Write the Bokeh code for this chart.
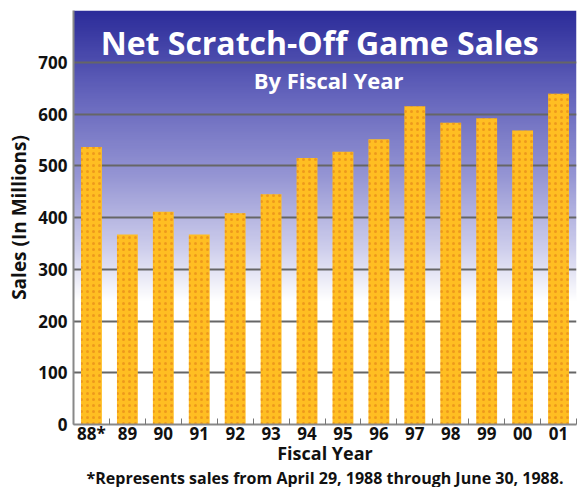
import numpy as np
from bokeh.plotting import figure
from bokeh.models import ColumnDataSource, FixedTicker, Label, Title, Range1d
from bokeh.embed import file_html
from bokeh.resources import INLINE

years = ["88*", "89", "90", "91", "92", "93", "94", "95", "96", "97", "98", "99", "00", "01"]
sales = [536, 367, 411, 367, 408, 445, 515, 527, 551, 615, 583, 592, 568, 639]
y_ticks = [0, 100, 200, 300, 400, 500, 600, 700]
title_text = "Net Scratch-Off Game Sales"
subtitle_text = "By Fiscal Year"
x_label = "Fiscal Year"
y_label = "Sales (In Millions)"
footnote = "*Represents sales from April 29, 1988 through June 30, 1988."

FONT = "Open Sans"
n = len(years)
xpos = [i + 0.5 for i in range(n)]

p = figure(width=582, height=487, output_backend="svg", toolbar_location=None,
           x_range=Range1d(0, n), y_range=Range1d(0, 800),
           min_border_left=73, min_border_right=6, min_border_top=10, min_border_bottom=63)
p.background_fill_color = "white"
p.border_fill_color = "white"
p.outline_line_color = None

# gradient background (dark blue at top fading to white)
H = 200
vals = np.linspace(0, 800, H)
stops_v = [0, 240, 330, 480, 640, 800]
stops_c = np.array([[255, 255, 255], [255, 255, 255], [210, 210, 238], [150, 150, 212],
                    [100, 100, 188], [44, 44, 154]], dtype=float)
img = np.zeros((H, 1), dtype=np.uint32)
view = img.view(dtype=np.uint8).reshape((H, 1, 4))
for k in range(3):
    view[:, 0, k] = np.interp(vals, stops_v, stops_c[:, k]).astype(np.uint8)
view[:, 0, 3] = 255
bg = p.image_rgba(image=[img], x=0, y=0, dw=n, dh=800)
bg.level = "image"

src = ColumnDataSource(dict(x=xpos, top=sales))
p.vbar(x="x", top="top", width=0.58, source=src, fill_color="#FFBE22", line_color=None,
       hatch_pattern=".", hatch_color="#E8901A", hatch_scale=6, hatch_weight=1.5, hatch_alpha=0.8)

# axes
p.xaxis.ticker = FixedTicker(ticks=xpos, minor_ticks=list(range(n + 1)))
p.xaxis.major_label_overrides = {x: lab for x, lab in zip(xpos, years)}
p.xaxis.major_tick_in = 0
p.xaxis.major_tick_out = 0
p.xaxis.minor_tick_in = 6
p.xaxis.minor_tick_out = 0
p.xaxis.minor_tick_line_color = "#777777"
p.xaxis.axis_line_color = "#888888"
p.xaxis.axis_line_width = 2
p.xaxis.major_label_text_font = FONT
p.xaxis.major_label_text_font_style = "bold"
p.xaxis.major_label_text_font_size = "17px"
p.xaxis.major_label_text_color = "#111111"
p.xaxis.major_label_standoff = -3
p.xaxis.axis_label = x_label
p.xaxis.axis_label_text_font = FONT
p.xaxis.axis_label_text_font_style = "bold"
p.xaxis.axis_label_text_font_size = "18px"
p.xaxis.axis_label_text_color = "#111111"
p.xaxis.axis_label_standoff = -7

p.yaxis.ticker = FixedTicker(ticks=y_ticks)
p.yaxis.major_tick_in = 0
p.yaxis.major_tick_out = 0
p.yaxis.minor_tick_line_color = None
p.yaxis.axis_line_color = "#888888"
p.yaxis.axis_line_width = 2
p.yaxis.major_label_text_font = FONT
p.yaxis.major_label_text_font_style = "bold"
p.yaxis.major_label_text_font_size = "17px"
p.yaxis.major_label_text_color = "#111111"
p.yaxis.major_label_standoff = 6
p.yaxis.axis_label = y_label
p.yaxis.axis_label_text_font = FONT
p.yaxis.axis_label_text_font_style = "bold"
p.yaxis.axis_label_text_font_size = "19px"
p.yaxis.axis_label_text_color = "#111111"
p.yaxis.axis_label_standoff = 3

p.xgrid.grid_line_color = None
p.ygrid.ticker = FixedTicker(ticks=y_ticks[1:])
p.ygrid.grid_line_color = "#666666"
p.ygrid.grid_line_width = 2

p.add_layout(Label(x=6.85, y=738, text=title_text, text_align="center", text_baseline="alphabetic",
                   text_font=FONT, text_font_style="bold", text_font_size="32px", text_color="white"))
p.add_layout(Label(x=7.1, y=666, text=subtitle_text, text_align="center", text_baseline="alphabetic",
                   text_font=FONT, text_font_style="bold", text_font_size="22px", text_color="white"))

p.add_layout(Title(text=footnote, align="center", text_font=FONT, text_font_style="bold",
                   text_font_size="16px", text_color="#111111", standoff=-6), "below")

open("out.html", "w").write(file_html(p, INLINE))
